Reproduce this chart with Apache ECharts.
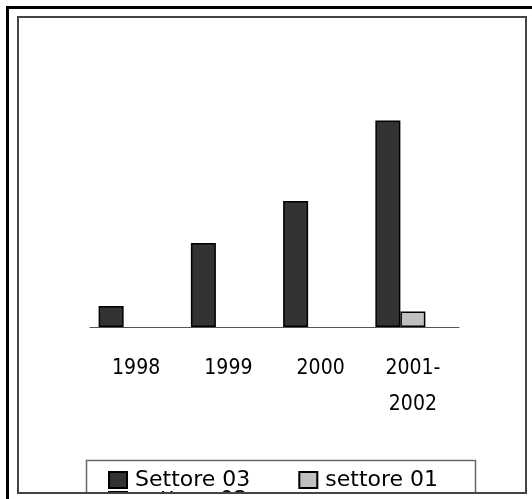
<!DOCTYPE html>
<html>
<head>
<meta charset="utf-8">
<script src="https://cdn.jsdelivr.net/npm/echarts@6/dist/echarts.min.js"></script>
<style>
  html, body { margin: 0; padding: 0; background: #fff; width: 532px; height: 499px; overflow: hidden; }
  #outer { position: absolute; left: 6px; top: 6px; width: 600px; height: 600px; border-left: 3px solid #000; border-top: 3px solid #000; }
  #chart { position: absolute; left: 17px; top: 16px; width: 510px; height: 478px; border: 2px solid #444; box-sizing: border-box; background: #fff; }
</style>
</head>
<body>
<div id="outer"></div>
<div id="chart"></div>
<script>
// categorie e valori
const anni = ['1998', '1999', '2000', '2001-\n2002']
const settore03 = [3, 12, 18, 29.5]
const settore01 = [null, null, null, 2.2]
const settore02 = [null, null, null, null]

let chart = echarts.init(document.getElementById('chart'))

let legendText = {color: '#000', fontSize: 22, lineHeight: 24, padding: [0, 0, 0, 3], fontFamily: '"DejaVu Sans", sans-serif'}

let option = {
  animation: false,
  grid: {
    left: 71,
    right: 66,
    top: 29,
    height: 280
  },
  xAxis: {
    type: 'category',
    data: anni,
    axisLine: {lineStyle: {color: '#555', width: 1}},
    axisTick: {length: 8, lineStyle: {color: '#555'}},
    axisLabel: {
      margin: 24,
      color: '#000',
      fontSize: 21,
      lineHeight: 36,
      fontFamily: '"DejaVu Sans Condensed", "Liberation Sans", sans-serif',
      interval: 0
    }
  },
  yAxis: {
    type: 'value',
    min: 0,
    max: 40,
    show: false,
    splitLine: {show: false}
  },
  legend: [
    {
      data: ['Settore 03', 'settore 01'],
      icon: 'rect',
      left: 89,
      top: 450,
      padding: 0,
      itemWidth: 18,
      itemHeight: 16,
      itemGap: 48,
      textStyle: legendText
    },
    {
      // terza voce quasi tagliata dal bordo
      data: ['settore 02'],
      icon: 'rect',
      left: 89,
      top: 470,
      padding: 0,
      itemWidth: 18,
      itemHeight: 16,
      textStyle: legendText
    }
  ],
  graphic: [
    {
      type: 'rect',
      left: 65,
      top: 440,
      shape: {width: 389, height: 80},
      style: {fill: 'none', stroke: '#666', lineWidth: 1.5},
      silent: true
    }
  ],
  series: [
    {
      name: 'Settore 03',
      type: 'bar',
      data: settore03,
      barWidth: 25,
      barGap: '0%',
      itemStyle: {color: '#333333', borderColor: '#000', borderWidth: 1.5}
    },
    {
      name: 'settore 01',
      type: 'bar',
      data: settore01,
      barWidth: 25,
      barGap: '0%',
      itemStyle: {color: '#c0c0c0', borderColor: '#000', borderWidth: 1.5}
    },
    {
      name: 'settore 02',
      type: 'bar',
      data: settore02,
      barWidth: 25,
      barGap: '0%',
      itemStyle: {color: '#999966', borderColor: '#000', borderWidth: 1.5}
    }
  ]
}

chart.setOption(option)
</script>
</body>
</html>
